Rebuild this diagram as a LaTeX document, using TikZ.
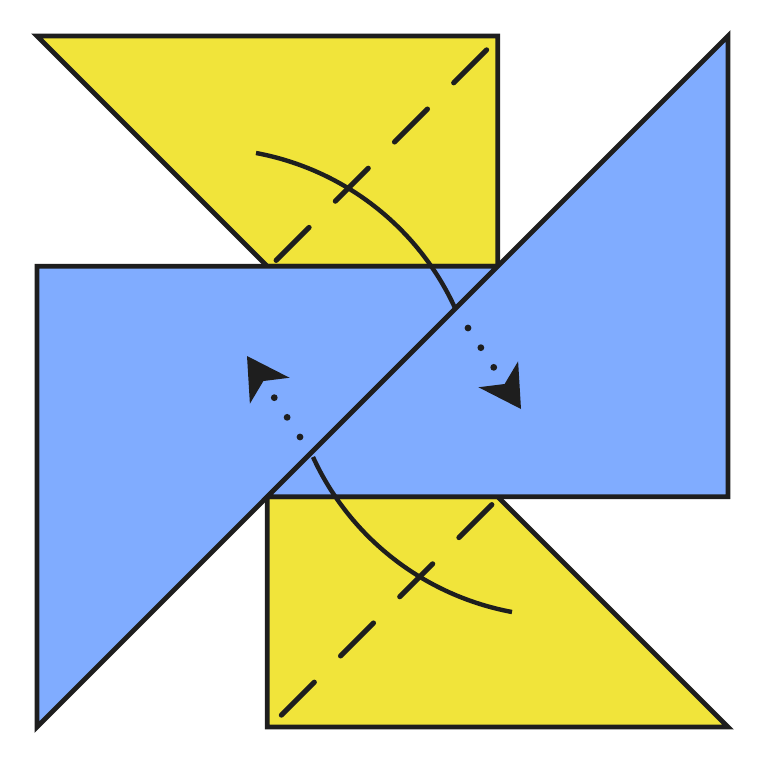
\documentclass[tikz,border=0pt]{standalone}
\usetikzlibrary{arrows.meta}
\definecolor{foldyellow}{RGB}{241,228,58}
\definecolor{foldblue}{RGB}{128,172,255}
\definecolor{ink}{RGB}{30,30,30}
\begin{document}
\begin{tikzpicture}[x=1pt,y=-1pt,
  paper/.style={draw=ink,line width=4.8pt,line join=miter},
  foldline/.style={draw=ink,line width=5.2pt,line cap=round,dash pattern=on 46.5pt off 37.2pt},
  turn/.style={draw=ink,line width=4.4pt},
  trail/.style={draw=ink,line width=6.8pt,line cap=round,dash pattern=on 0pt off 23.5pt,
    -{Stealth[length=41.5pt,width=47.4pt,inset=11.6pt,line width=0pt]}}]
\fill[white] (0,0) rectangle (763,764);
\useasboundingbox (0,0) rectangle (763,764);
% yellow pieces
\path[paper,fill=foldyellow] (37,36) -- (497.7,36) -- (497.7,266.3) -- (267.3,266.3) -- cycle;
\path[paper,fill=foldyellow] (267.3,496.7) -- (497.7,496.7) -- (728,727) -- (267.3,727) -- cycle;
% blue pieces
\path[paper,fill=foldblue] (37,266.3) -- (497.7,266.3) -- (37,727) -- cycle;
\path[paper,fill=foldblue] (728,36) -- (728,496.7) -- (267.3,496.7) -- cycle;
% fold lines
\coordinate (ta) at (486.6,49.9); \coordinate (tb) at (271,265.5);
\coordinate (ba) at (281.4,715.1); \coordinate (bb) at (497,499.5);
\draw[foldline] (ta) -- (tb);
\draw[foldline] (ba) -- (bb);
% turning arrows
\coordinate (c1s) at (256,153); \coordinate (c1e) at (455,308);
\coordinate (d1s) at (468,328); \coordinate (d1e) at (521,409);
\coordinate (c2s) at (512,612); \coordinate (c2e) at (313,457);
\coordinate (d2s) at (300,437); \coordinate (d2e) at (247,356);
\draw[turn] (c1s) .. controls (343.5,169.3) and (418,227) .. (c1e);
\draw[trail] (d1s) -- (d1e);
\draw[turn] (c2s) .. controls (424.5,595.7) and (350,538) .. (c2e);
\draw[trail] (d2s) -- (d2e);
\end{tikzpicture}
\end{document}
